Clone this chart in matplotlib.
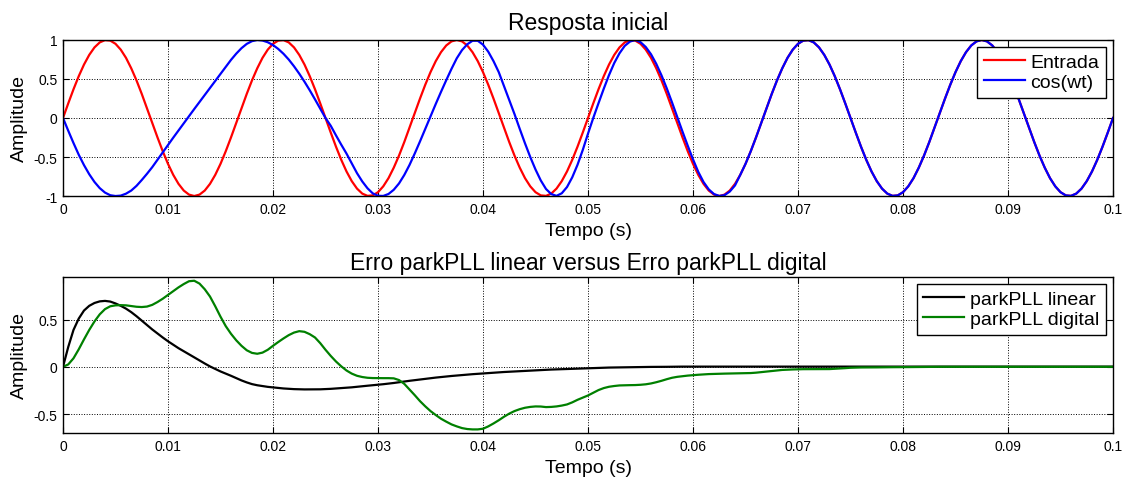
import numpy as np
import matplotlib
matplotlib.use("Agg")
import matplotlib.pyplot as plt

plt.rcParams['font.family'] = ['Liberation Sans', 'DejaVu Sans']

# --- data ---
# both plots sampled every 0.5 ms, 0 .. 0.1 s
t = np.linspace(0.0, 0.1, 201)

entrada = [
    0.0, 0.187, 0.368, 0.536, 0.685, 0.809, 0.905, 0.969, 0.998, 0.992,
    0.951, 0.876, 0.771, 0.637, 0.482, 0.309, 0.125, -0.063, -0.249, -0.426,
    -0.588, -0.729, -0.844, -0.930, -0.982, -1.0, -0.982, -0.930, -0.844, -0.729,
    -0.588, -0.426, -0.249, -0.063, 0.125, 0.309, 0.482, 0.637, 0.771, 0.876,
    0.951, 0.992, 0.998, 0.969, 0.905, 0.809, 0.685, 0.536, 0.368, 0.187,
    0.0, -0.187, -0.368, -0.536, -0.685, -0.809, -0.905, -0.969, -0.998, -0.992,
    -0.951, -0.876, -0.771, -0.637, -0.482, -0.309, -0.125, 0.063, 0.249, 0.426,
    0.588, 0.729, 0.844, 0.930, 0.982, 1.0, 0.982, 0.930, 0.844, 0.729,
    0.588, 0.426, 0.249, 0.063, -0.125, -0.309, -0.482, -0.637, -0.771, -0.876,
    -0.951, -0.992, -0.998, -0.969, -0.905, -0.809, -0.685, -0.536, -0.368, -0.187,
    0.0, 0.187, 0.368, 0.536, 0.685, 0.809, 0.905, 0.969, 0.998, 0.992,
    0.951, 0.876, 0.771, 0.637, 0.482, 0.309, 0.125, -0.063, -0.249, -0.426,
    -0.588, -0.729, -0.844, -0.930, -0.982, -1.0, -0.982, -0.930, -0.844, -0.729,
    -0.588, -0.426, -0.249, -0.063, 0.125, 0.309, 0.482, 0.637, 0.771, 0.876,
    0.951, 0.992, 0.998, 0.969, 0.905, 0.809, 0.685, 0.536, 0.368, 0.187,
    0.0, -0.187, -0.368, -0.536, -0.685, -0.809, -0.905, -0.969, -0.998, -0.992,
    -0.951, -0.876, -0.771, -0.637, -0.482, -0.309, -0.125, 0.063, 0.249, 0.426,
    0.588, 0.729, 0.844, 0.930, 0.982, 1.0, 0.982, 0.930, 0.844, 0.729,
    0.588, 0.426, 0.249, 0.063, -0.125, -0.309, -0.482, -0.637, -0.771, -0.876,
    -0.951, -0.992, -0.998, -0.969, -0.905, -0.809, -0.685, -0.536, -0.368, -0.187,
    0.0,
]

cos_wt = [
    0.0, -0.163, -0.321, -0.471, -0.604, -0.721, -0.820, -0.899, -0.956, -0.990,
    -1.0, -0.995, -0.97, -0.93, -0.87, -0.795, -0.715, -0.63, -0.535, -0.44,
    -0.345, -0.252, -0.16, -0.068, 0.024, 0.115, 0.205, 0.295, 0.385, 0.475,
    0.565, 0.655, 0.745, 0.825, 0.895, 0.95, 0.985, 1.0, 0.993, 0.971,
    0.935, 0.885, 0.823, 0.749, 0.663, 0.568, 0.465, 0.355, 0.239, 0.120,
    0.0, -0.10, -0.223, -0.342, -0.456, -0.582, -0.707, -0.813, -0.901, -0.966,
    -0.997, -0.999, -0.974, -0.92, -0.839, -0.731, -0.602, -0.455, -0.30, -0.14,
    0.02, 0.18, 0.335, 0.485, 0.63, 0.765, 0.87, 0.945, 0.99, 0.99,
    0.94, 0.85, 0.729, 0.588, 0.41, 0.235, 0.05, -0.14, -0.325, -0.5,
    -0.66, -0.80, -0.91, -0.975, -0.998, -0.965, -0.885, -0.76, -0.60, -0.41,
    -0.20, 0.0, 0.19, 0.375, 0.55, 0.705, 0.83, 0.925, 0.98, 1.0,
    0.972, 0.910, 0.817, 0.694, 0.546, 0.380, 0.200, 0.013, -0.175, -0.356,
    -0.53, -0.69, -0.82, -0.915, -0.975, -0.999, -0.989, -0.943, -0.864, -0.729,
    -0.588, -0.426, -0.249, -0.063, 0.125, 0.309, 0.482, 0.637, 0.771, 0.876,
    0.951, 0.992, 0.998, 0.969, 0.905, 0.809, 0.685, 0.536, 0.368, 0.187,
    0.0, -0.187, -0.368, -0.536, -0.685, -0.809, -0.905, -0.969, -0.998, -0.992,
    -0.951, -0.876, -0.771, -0.637, -0.482, -0.309, -0.125, 0.063, 0.249, 0.426,
    0.588, 0.729, 0.844, 0.930, 0.982, 1.0, 0.982, 0.930, 0.844, 0.729,
    0.588, 0.426, 0.249, 0.063, -0.125, -0.309, -0.482, -0.637, -0.771, -0.876,
    -0.951, -0.992, -0.998, -0.969, -0.905, -0.809, -0.685, -0.536, -0.368, -0.187,
    0.0,
]

erro_linear = [
    0.0, 0.21, 0.39, 0.51, 0.595, 0.645, 0.675, 0.692, 0.697, 0.69,
    0.67, 0.645, 0.615, 0.578, 0.535, 0.488, 0.44, 0.395, 0.352, 0.31,
    0.27, 0.233, 0.197, 0.165, 0.134, 0.1, 0.067, 0.035, 0.004, -0.023,
    -0.049, -0.072, -0.095, -0.12, -0.144, -0.165, -0.183, -0.195, -0.204, -0.212,
    -0.218, -0.224, -0.229, -0.233, -0.236, -0.238, -0.239, -0.239, -0.239, -0.238,
    -0.236, -0.233, -0.229, -0.226, -0.222, -0.217, -0.211, -0.206, -0.2, -0.195,
    -0.19, -0.184, -0.178, -0.171, -0.163, -0.156, -0.148, -0.141, -0.134, -0.127,
    -0.121, -0.114, -0.108, -0.102, -0.097, -0.092, -0.087, -0.082, -0.078, -0.074,
    -0.07, -0.066, -0.062, -0.058, -0.055, -0.052, -0.049, -0.046, -0.043, -0.04,
    -0.037, -0.034, -0.032, -0.029, -0.027, -0.024, -0.022, -0.02, -0.018, -0.016,
    -0.014, -0.012, -0.011, -0.009, -0.008, -0.007, -0.006, -0.005, -0.004, -0.003,
    -0.002, -0.002, -0.001, -0.001, 0.0, 0.0, 0.001, 0.001, 0.002, 0.002,
    0.002, 0.002, 0.002, 0.002, 0.002, 0.002, 0.002, 0.002, 0.002, 0.002,
    0.002, 0.002, 0.002, 0.002, 0.002, 0.002, 0.002, 0.002, 0.002, 0.002,
    0.002, 0.002, 0.002, 0.002, 0.002, 0.002, 0.002, 0.002, 0.002, 0.002,
    0.002, 0.002, 0.002, 0.002, 0.002, 0.002, 0.002, 0.002, 0.002, 0.002,
    0.002, 0.002, 0.002, 0.002, 0.002, 0.002, 0.002, 0.002, 0.002, 0.002,
    0.002, 0.002, 0.002, 0.002, 0.002, 0.002, 0.002, 0.002, 0.002, 0.002,
    0.002, 0.002, 0.002, 0.002, 0.002, 0.002, 0.002, 0.002, 0.002, 0.002,
    0.002, 0.002, 0.002, 0.002, 0.002, 0.002, 0.002, 0.002, 0.002, 0.002,
    0.002,
]

erro_digital = [
    0.0, 0.025, 0.09, 0.185, 0.29, 0.39, 0.48, 0.555, 0.61, 0.64,
    0.65, 0.652, 0.65, 0.642, 0.635, 0.632, 0.637, 0.655, 0.685, 0.72,
    0.76, 0.80, 0.84, 0.875, 0.905, 0.91, 0.88, 0.82, 0.743, 0.64,
    0.53, 0.43, 0.349, 0.28, 0.222, 0.175, 0.147, 0.138, 0.15, 0.18,
    0.222, 0.262, 0.30, 0.335, 0.362, 0.377, 0.37, 0.345, 0.31, 0.25,
    0.18, 0.115, 0.056, 0.005, -0.039, -0.072, -0.095, -0.108, -0.116, -0.119,
    -0.12, -0.12, -0.12, -0.122, -0.14, -0.18, -0.24, -0.30, -0.363, -0.418,
    -0.468, -0.51, -0.549, -0.58, -0.609, -0.63, -0.648, -0.658, -0.662, -0.662,
    -0.655, -0.63, -0.599, -0.565, -0.528, -0.495, -0.468, -0.448, -0.433, -0.424,
    -0.419, -0.42, -0.426, -0.424, -0.419, -0.41, -0.398, -0.376, -0.349, -0.326,
    -0.303, -0.275, -0.246, -0.225, -0.211, -0.203, -0.197, -0.195, -0.194, -0.193,
    -0.19, -0.185, -0.176, -0.163, -0.148, -0.131, -0.116, -0.106, -0.099, -0.093,
    -0.088, -0.084, -0.08, -0.077, -0.075, -0.073, -0.072, -0.071, -0.07, -0.069,
    -0.068, -0.066, -0.062, -0.056, -0.05, -0.044, -0.038, -0.033, -0.03, -0.028,
    -0.026, -0.025, -0.025, -0.025, -0.025, -0.025, -0.024, -0.021, -0.018, -0.014,
    -0.01, -0.008, -0.007, -0.007, -0.006, -0.006, -0.005, -0.005, -0.004, -0.004,
    -0.003, -0.003, -0.002, -0.002, -0.002, -0.001, 0.0, 0.0, 0.0, 0.0,
    0.0, 0.0, 0.0, 0.0, 0.0, 0.0, 0.0, 0.0, 0.0, 0.0,
    0.0, 0.0, 0.0, 0.0, 0.0, 0.0, 0.0, 0.0, 0.0, 0.0,
    0.0, 0.0, 0.0, 0.0, 0.0, 0.0, 0.0, 0.0, 0.0, 0.0,
    0.0,
]

x_ticks = [0, 0.01, 0.02, 0.03, 0.04, 0.05, 0.06, 0.07, 0.08, 0.09, 0.1]
x_labels = ['0', '0.01', '0.02', '0.03', '0.04', '0.05', '0.06', '0.07', '0.08', '0.09', '0.1']


def style_axes(ax):
    """MATLAB-like look: inward ticks on all sides, dotted grid."""
    ax.tick_params(direction='in', top=True, right=True, length=4,
                   width=0.8, labelsize=10, pad=4)
    ax.grid(True, linestyle=':', color='black', linewidth=0.7)
    for sp in ax.spines.values():
        sp.set_linewidth(1.0)
    ax.set_xlim(0, 0.1)
    ax.set_xticks(x_ticks)
    ax.set_xticklabels(x_labels)
    ax.set_xlabel('Tempo (s)', fontsize=14, labelpad=4.5)
    ax.set_ylabel('Amplitude', fontsize=14, labelpad=4)


def add_legend(ax):
    leg = ax.legend(loc='upper right', fontsize=14, fancybox=False, framealpha=1,
                    edgecolor='black', borderpad=0.35, labelspacing=0.1,
                    handlelength=2.1, handletextpad=0.3, borderaxespad=0.35)
    leg.get_frame().set_linewidth(1.0)


fig = plt.figure(figsize=(11.31, 4.81), dpi=100)

ax1 = fig.add_axes([0.0557, 0.5904, 0.9284, 0.3244])
ax1.plot(t, entrada, color='red', linewidth=1.6, label='Entrada')
ax1.plot(t, cos_wt, color='blue', linewidth=1.6, label='cos(wt)')
style_axes(ax1)
ax1.set_ylim(-1, 1)
ax1.set_yticks([-1, -0.5, 0, 0.5, 1])
ax1.set_yticklabels(['-1', '-0.5', '0', '0.5', '1'])
ax1.set_title('Resposta inicial', fontsize=16.5, pad=8)
add_legend(ax1)

ax2 = fig.add_axes([0.0557, 0.0977, 0.9284, 0.3244])
ax2.plot(t, erro_linear, color='black', linewidth=1.6, label='parkPLL linear')
ax2.plot(t, erro_digital, color='#008000', linewidth=1.6, label='parkPLL digital')
style_axes(ax2)
ax2.set_ylim(-0.7, 0.95)
ax2.set_yticks([-0.5, 0, 0.5])
ax2.set_yticklabels(['-0.5', '0', '0.5'])
ax2.set_title('Erro parkPLL linear versus Erro parkPLL digital', fontsize=16.5, pad=6)
add_legend(ax2)

fig.savefig('out.png', dpi=100)
